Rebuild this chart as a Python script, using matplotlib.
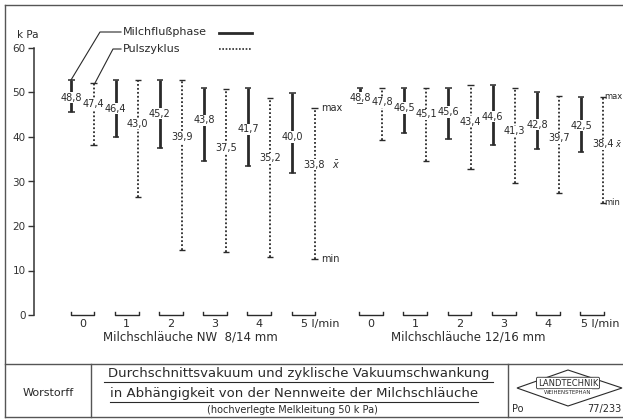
import matplotlib
matplotlib.use('Agg')
import matplotlib.pyplot as plt
from matplotlib.lines import Line2D
from matplotlib.patches import Polygon

# ---------------- data ----------------
flow_rates = ["0", "1", "2", "3", "4", "5 l/min"]
group_labels = ["Milchschläuche NW  8/14 mm", "Milchschläuche 12/16 mm"]

nw814_milch_max = [52.7, 52.7, 52.7, 51.1, 50.9, 49.8]
nw814_milch_mean = [48.8, 46.4, 45.2, 43.8, 41.7, 40.0]
nw814_milch_min = [45.7, 40.1, 37.6, 34.5, 33.4, 32.0]
nw814_puls_max = [52.2, 52.9, 52.9, 50.7, 48.7, 46.6]
nw814_puls_mean = [47.4, 43.0, 39.9, 37.5, 35.2, 33.8]
nw814_puls_min = [38.1, 26.6, 14.6, 14.2, 13.1, 12.6]

nw1216_milch_max = [51.1, 50.9, 50.9, 51.6, 50.2, 49.1]
nw1216_milch_mean = [48.8, 46.5, 45.6, 44.6, 42.8, 42.5]
nw1216_milch_min = [47.7, 40.8, 39.6, 38.1, 37.2, 36.7]
nw1216_puls_max = [51.1, 50.9, 51.6, 50.9, 49.3, 49.1]
nw1216_puls_mean = [47.8, 45.1, 43.4, 41.3, 39.7, 38.4]
nw1216_puls_min = [39.4, 34.7, 32.7, 29.7, 27.5, 25.2]

yticks = [0, 10, 20, 30, 40, 50, 60]

# ---------------- layout ----------------
W, H = 623, 419
plt.rcParams['font.family'] = ['DejaVu Sans']
fig = plt.figure(figsize=(W / 100, H / 100), dpi=100)
fig.patch.set_facecolor('white')

x0px, upx = 82.5, 44.2
ax_left_px, y0px, y60px = 34, 315, 48
ax = fig.add_axes([ax_left_px / W, (H - y0px) / H, (W - ax_left_px) / W, (y0px - y60px) / H])
ax.set_xlim((ax_left_px - x0px) / upx, (W - x0px) / upx)
ax.set_ylim(0, 60)
for s in ['top', 'right', 'bottom']:
    ax.spines[s].set_visible(False)
ax.spines['left'].set_linewidth(1.1)
ax.spines['left'].set_color('#333333')
ax.set_xticks([])
ax.set_yticks(yticks)
ax.tick_params(axis='y', direction='out', length=4, width=1, labelsize=7.5, colors='#333333', pad=2)
ax.patch.set_alpha(0)

INK = '#2a2a2a'
group_offsets = [0.0, 6.53]
dx = 0.25
capw = 0.07

groups = [
    (nw814_milch_max, nw814_milch_mean, nw814_milch_min, nw814_puls_max, nw814_puls_mean, nw814_puls_min),
    (nw1216_milch_max, nw1216_milch_mean, nw1216_milch_min, nw1216_puls_max, nw1216_puls_mean, nw1216_puls_min),
]


def fmt(v):
    return f"{v:.1f}".replace('.', ',')


for gi, (off, data) in enumerate(zip(group_offsets, groups)):
    mmax, mmean, mmin, pmax, pmean, pmin = data
    for i in range(len(flow_rates)):
        c = off + i
        xs = c - dx
        xp = c + dx
        # Milchflussphase (solid)
        ax.vlines(xs, mmin[i], mmax[i], colors=INK, lw=2.0, clip_on=False)
        ax.hlines([mmin[i], mmax[i]], xs - capw, xs + capw, colors=INK, lw=1.1, clip_on=False)
        # Pulszyklus (dotted)
        ax.vlines(xp, pmin[i], pmax[i], colors=INK, lw=1.3, linestyles=(0, (1, 1.2)), clip_on=False)
        ax.hlines([pmin[i], pmax[i]], xp - capw, xp + capw, colors=INK, lw=1.0, clip_on=False)
        # mean labels
        for xv, v in ((xs, mmean[i]), (xp, pmean[i])):
            ax.text(xv, v, fmt(v), ha='center', va='center', fontsize=7, color=INK,
                    bbox=dict(facecolor='white', edgecolor='none', pad=0.4), zorder=5, clip_on=False)
        # bracket at baseline
        bw = 0.27
        ax.plot([c - bw, c - bw, c + bw, c + bw], [0.6, 0, 0, 0.6], color=INK, lw=1.0, clip_on=False)
        # tick labels
        lab = flow_rates[i]
        if i == len(flow_rates) - 1:
            ax.text(c - (0.05 if gi == 0 else 0.25), -2.1, lab, ha='left', va='center', fontsize=8, color=INK, clip_on=False)
        else:
            ax.text(c, -2.1, lab, ha='center', va='center', fontsize=8, color=INK, clip_on=False)
    ax.text(off + (2.45 if gi == 0 else 2.2), -5.0, group_labels[gi], ha='center', va='center', fontsize=8.5,
            color=INK, clip_on=False)


def px2x(px):
    return (px - x0px) / upx


# max / x-bar / min annotations
ax.text(px2x(321), nw814_puls_max[5], 'max', ha='left', va='center', fontsize=7, color=INK, clip_on=False)
ax.text(px2x(332), nw814_puls_mean[5], r'$\bar{x}$', ha='left', va='center', fontsize=7, color=INK, clip_on=False)
ax.text(px2x(321), nw814_puls_min[5], 'min', ha='left', va='center', fontsize=7, color=INK, clip_on=False)
ax.text(px2x(604), nw1216_puls_max[5], 'max', ha='left', va='center', fontsize=6, color=INK, clip_on=False)
ax.text(px2x(615), nw1216_puls_mean[5], r'$\bar{x}$', ha='left', va='center', fontsize=6, color=INK, clip_on=False)
ax.text(px2x(604), nw1216_puls_min[5], 'min', ha='left', va='center', fontsize=6, color=INK, clip_on=False)


# ---------------- figure-level decorations ----------------
def P(x, y):
    return x / W, 1 - y / H


def fline(xs, ys, **kw):
    pts = [P(x, y) for x, y in zip(xs, ys)]
    fig.add_artist(Line2D([p[0] for p in pts], [p[1] for p in pts], transform=fig.transFigure, **kw))


def ftext(x, y, s, **kw):
    fx, fy = P(x, y)
    fig.text(fx, fy, s, **kw)


FR = '#555555'
# outer frame
fline([5, 5], [5, 417], color=FR, lw=1.0)
fline([5, 623], [5, 5], color=FR, lw=1.0)
fline([5, 623], [417, 417], color=FR, lw=1.0)
# title block
fline([5, 623], [364, 364], color=FR, lw=1.0)
fline([91, 91], [364, 417], color=FR, lw=1.0)
fline([508, 508], [364, 417], color=FR, lw=1.0)

ftext(17, 35, 'k Pa', ha='left', va='center', fontsize=7.5, color=INK)

# legend
ftext(123, 32, 'Milchflußphase', ha='left', va='center', fontsize=8, color=INK)
fline([219, 252], [33, 33], color=INK, lw=2.0)
ftext(123, 49, 'Pulszyklus', ha='left', va='center', fontsize=8, color=INK)
fline([219, 252], [49, 49], color=INK, lw=1.2, linestyle=(0, (1, 1)))
# leader lines
fline([121, 100, 71], [32, 32, 80], color=INK, lw=0.8)
fline([121, 113, 95], [49, 49, 83], color=INK, lw=0.8)

# title block texts
ftext(48, 393, 'Worstorff', ha='center', va='center', fontsize=8, color=INK)
ftext(299, 373, 'Durchschnittsvakuum und zyklische Vakuumschwankung', ha='center', va='center',
      fontsize=9.5, color=INK)
ftext(294, 393, 'in Abhängigkeit von der Nennweite der Milchschläuche', ha='center', va='center',
      fontsize=9.5, color=INK)
fline([104, 493], [382, 382], color=INK, lw=0.8)
fline([110, 478], [402, 402], color=INK, lw=0.8)
ftext(292, 410, '(hochverlegte Melkleitung 50 k Pa)', ha='center', va='center', fontsize=7, color=INK)

# logo
fig.add_artist(Polygon([P(517, 388), P(568, 370), P(622, 388), P(568, 406)], closed=True,
                       fill=False, edgecolor=INK, lw=0.8, transform=fig.transFigure))
ftext(568, 383, 'LANDTECHNIK', ha='center', va='center', fontsize=6, color=INK,
      bbox=dict(boxstyle='round,pad=0.15', facecolor='white', edgecolor=INK, lw=0.6))
ftext(568, 392, 'WEIHENSTEPHAN', ha='center', va='center', fontsize=4, color=INK,
      bbox=dict(facecolor='white', edgecolor='none', pad=0.3))
ftext(512, 409, 'Po', ha='left', va='center', fontsize=7, color=INK)
ftext(621, 409, '77/233', ha='right', va='center', fontsize=7, color=INK)

fig.savefig('out.png', dpi=100, facecolor='white')
